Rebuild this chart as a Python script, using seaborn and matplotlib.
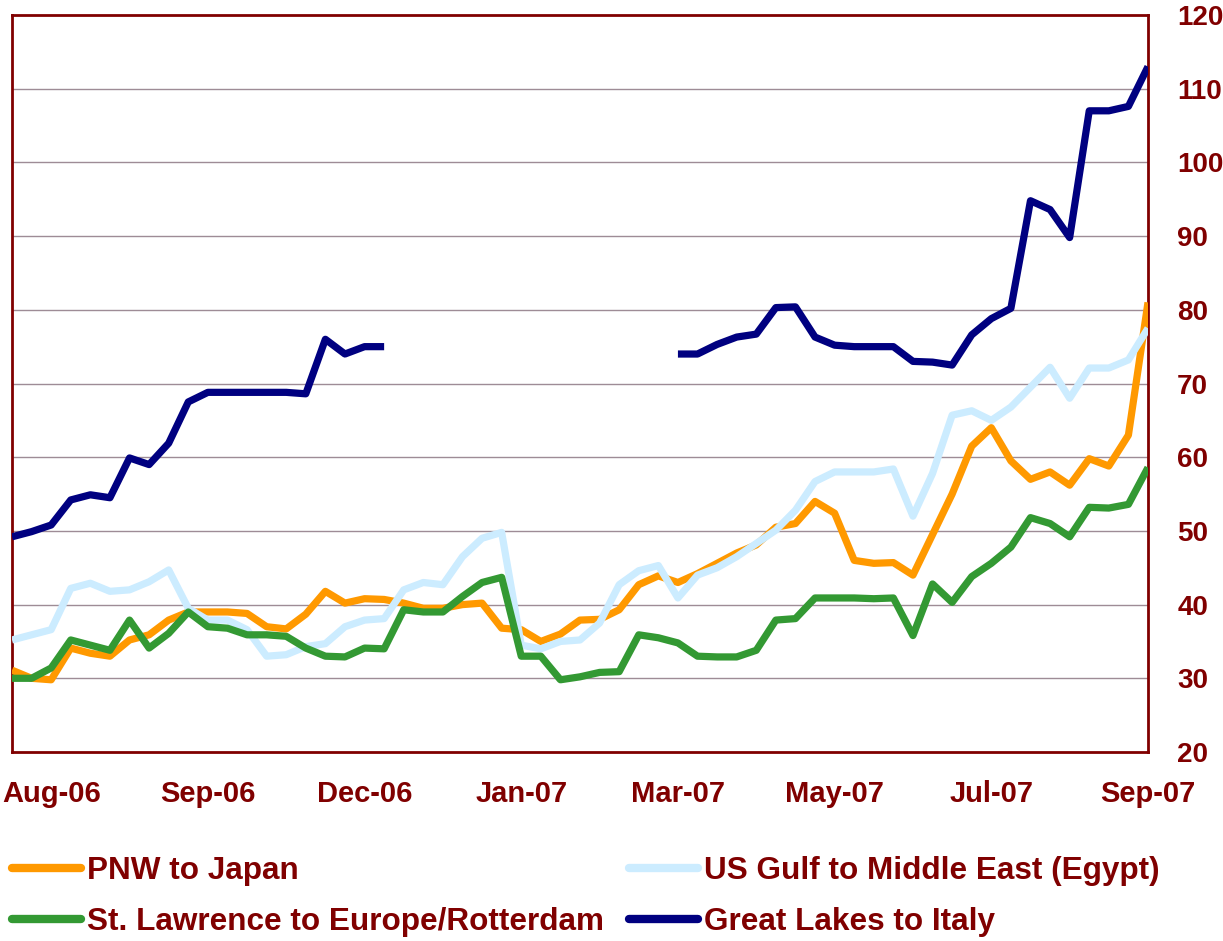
import numpy as np
import pandas as pd
import matplotlib
matplotlib.use("Agg")
import matplotlib.pyplot as plt
import seaborn as sns
from matplotlib.lines import Line2D

# ---------------- data ----------------
weeks = list(range(59))
tick_positions = [2, 10, 18, 26, 34, 42, 50, 58]
tick_labels = ["Aug-06", "Sep-06", "Dec-06", "Jan-07", "Mar-07", "May-07", "Jul-07", "Sep-07"]

pnw_japan = [31.1, 30.0, 29.8, 34.1, 33.4, 33.0, 35.2, 35.9, 37.9, 39.0,
             39.0, 39.0, 38.8, 37.0, 36.7, 38.7, 41.8, 40.2, 40.8, 40.7,
             40.2, 39.5, 39.5, 40.0, 40.2, 36.8, 36.6, 35.0, 36.0, 37.9,
             38.0, 39.3, 42.7, 43.9, 43.0, 44.2, 45.6, 47.0, 48.1, 50.5,
             51.0, 54.0, 52.4, 46.0, 45.6, 45.7, 44.0, 49.5, 55.0, 61.5,
             64.0, 59.5, 57.0, 58.0, 56.2, 59.8, 58.8, 63.0, 81.0]

us_gulf_egypt = [35.2, 35.9, 36.6, 42.2, 42.9, 41.8, 42.0, 43.1, 44.7, 39.5,
                 37.9, 37.9, 36.6, 33.0, 33.2, 34.3, 34.7, 37.0, 37.9, 38.1,
                 42.0, 43.0, 42.7, 46.5, 49.0, 49.8, 34.5, 34.0, 35.0, 35.2,
                 37.5, 42.7, 44.6, 45.3, 40.9, 44.0, 45.0, 46.5, 48.3, 50.1,
                 52.8, 56.7, 58.0, 58.0, 58.0, 58.4, 52.0, 57.8, 65.7, 66.3,
                 65.0, 66.8, 69.5, 72.2, 68.0, 72.1, 72.1, 73.2, 77.5]

st_lawrence = [30.0, 30.0, 31.4, 35.2, 34.5, 33.8, 37.9, 34.1, 36.1, 39.0,
               37.0, 36.8, 35.9, 35.9, 35.7, 34.1, 33.0, 32.9, 34.1, 34.0,
               39.3, 39.0, 39.0, 41.1, 43.0, 43.7, 33.0, 33.0, 29.8, 30.2,
               30.8, 30.9, 35.9, 35.5, 34.8, 33.0, 32.9, 32.9, 33.8, 37.9,
               38.1, 40.9, 40.9, 40.9, 40.8, 40.9, 35.8, 42.8, 40.3, 43.8,
               45.6, 47.8, 51.8, 51.0, 49.2, 53.2, 53.1, 53.6, 58.6]

nan = np.nan
great_lakes = [49.2, 49.9, 50.8, 54.2, 54.9, 54.5, 59.9, 59.0, 61.9, 67.5,
               68.8, 68.8, 68.8, 68.8, 68.8, 68.6, 76.0, 74.0, 75.0, 75.0,
               nan, nan, nan, nan, nan, nan, nan, nan, nan, nan,
               nan, nan, nan, nan, 74.0, 74.0, 75.3, 76.3, 76.7, 80.3,
               80.4, 76.3, 75.2, 75.0, 75.0, 75.0, 73.0, 72.9, 72.5, 76.6,
               78.8, 80.2, 94.8, 93.6, 89.8, 107.0, 107.0, 107.6, 113.0]

series_names = ["PNW to Japan", "US Gulf to Middle East (Egypt)",
                "St. Lawrence to Europe/Rotterdam", "Great Lakes to Italy"]
series_values = [pnw_japan, us_gulf_egypt, st_lawrence, great_lakes]
series_colors = ["#FF9900", "#CCECFF", "#339933", "#000080"]

# ---------------- style ----------------
sns.set_style("white")
plt.rcParams['font.family'] = ['Liberation Sans', 'DejaVu Sans']
plt.rcParams['font.weight'] = 'bold'
dark_red = "#800000"

fig = plt.figure(figsize=(12.23, 9.41), dpi=100)
ax = fig.add_axes([12 / 1223, 1 - 752 / 941, (1148 - 12) / 1223, (752 - 15) / 941])

for name, vals, col in zip(series_names, series_values, series_colors):
    df = pd.DataFrame({"week": weeks, "value": vals})
    df["seg"] = df["value"].isna().cumsum()
    df = df.dropna()
    sns.lineplot(data=df, x="week", y="value", units="seg", estimator=None,
                 color=col, linewidth=5.2, ax=ax, legend=False,
                 solid_joinstyle="round", solid_capstyle="butt", zorder=3)

ax.set_xlim(0, 58)
ax.set_ylim(20, 120)
ax.set_xticks(tick_positions)
ax.set_xticklabels(tick_labels)
ax.set_yticks(range(20, 121, 10))
ax.yaxis.tick_right()
ax.tick_params(axis="y", length=0, pad=21, labelsize=20, labelcolor=dark_red)
ax.tick_params(axis="x", length=0, pad=20, labelsize=21, labelcolor=dark_red)
for lab in ax.get_xticklabels() + ax.get_yticklabels():
    lab.set_fontweight("bold")
ax.set_xlabel("")
ax.set_ylabel("")

for yv in range(30, 120, 10):
    ax.axhline(yv, color="#9e8c96", linewidth=1.0, zorder=1)

for sp in ax.spines.values():
    sp.set_visible(True)
    sp.set_color(dark_red)
    sp.set_linewidth(2)

handles = [Line2D([0], [0], color=c, linewidth=6) for c in series_colors]
order = [0, 2, 1, 3]
leg = fig.legend([handles[i] for i in order], [series_names[i] for i in order],
                 ncol=2, loc="lower left", bbox_to_anchor=(8 / 1223, 0.0),
                 frameon=False, fontsize=22.7, handlelength=2.2, handletextpad=0.18,
                 columnspacing=0.8, labelspacing=0.67, borderaxespad=0.0,
                 borderpad=0.12)
for t in leg.get_texts():
    t.set_color(dark_red)
    t.set_fontweight("bold")

fig.savefig("out.png", dpi=100)
